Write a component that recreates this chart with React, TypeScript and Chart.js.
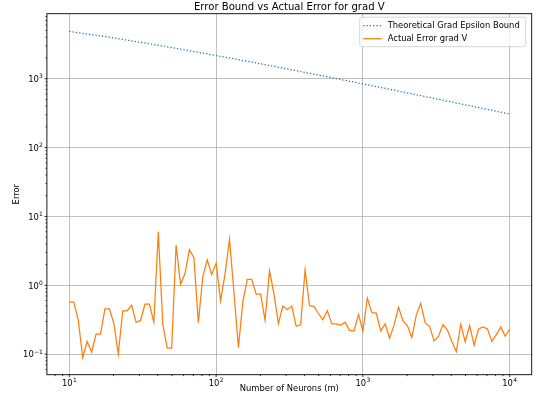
import React, { useEffect, useRef } from 'react';
import { Chart, registerables } from 'chart.js';

Chart.register(...registerables);

// Number of neurons m (100 log-spaced samples)
const neurons = [
  10, 10.72, 11.5, 12.33, 13.22, 14.18, 15.2, 16.3, 17.48, 18.74, 20.09, 21.54, 23.1, 24.77, 26.56, 28.48, 30.54,
  32.75, 35.11, 37.65, 40.37, 43.29, 46.42, 49.77, 53.37, 57.22, 61.36, 65.79, 70.55, 75.65, 81.11, 86.98, 93.26,
  100, 107.2, 115, 123.3, 132.2, 141.8, 152, 163, 174.8, 187.4, 200.9, 215.4, 231, 247.7, 265.6, 284.8, 305.4,
  327.5, 351.1, 376.5, 403.7, 432.9, 464.2, 497.7, 533.7, 572.2, 613.6, 657.9, 705.5, 756.5, 811.1, 869.8, 932.6,
  1000, 1072, 1150, 1233, 1322, 1418, 1520, 1630, 1748, 1874, 2009, 2154, 2310, 2477, 2656, 2848, 3054,
  3275, 3511, 3765, 4037, 4329, 4642, 4977, 5337, 5722, 6136, 6579, 7055, 7565, 8111, 8698, 9326, 10000,
];

// Actual error of grad V at each m
const actualError = [
  0.571, 0.571, 0.312, 0.089, 0.153, 0.107, 0.195, 0.195, 0.456, 0.456, 0.279, 0.1, 0.427, 0.427, 0.516, 0.289, 0.309,
  0.534, 0.534, 0.292, 6.0, 0.274, 0.122, 0.122, 3.83, 1.03, 1.48, 3.3, 2.51, 0.287, 1.33, 2.34, 1.43,
  2.09, 0.597, 1.45, 4.7, 0.8, 0.125, 0.57, 1.22, 1.22, 0.745, 0.745, 0.313, 1.63, 0.75, 0.278, 0.5, 0.442,
  0.5, 0.254, 0.267, 1.67, 0.505, 0.494, 0.39, 0.315, 0.428, 0.275, 0.275, 0.262, 0.291, 0.222, 0.217, 0.378,
  0.217, 0.65, 0.4, 0.395, 0.217, 0.276, 0.171, 0.264, 0.48, 0.303, 0.261, 0.175, 0.369, 0.547, 0.284, 0.254,
  0.156, 0.182, 0.268, 0.223, 0.153, 0.109, 0.272, 0.152, 0.263, 0.135, 0.232, 0.249, 0.232, 0.153, 0.192, 0.249,
  0.182, 0.232,
];

// Theoretical bound, read at a few m values
const boundNeurons = [10, 17.78, 31.62, 56.23, 100, 177.8, 316.2, 562.3, 1000, 1778, 3162, 5623, 10000];
const boundValues = [4850, 4070, 3340, 2710, 2170, 1730, 1365, 1073, 841, 656, 511, 396, 307];

// Tick labels: base 10 with exponent
const xTickValues = [10, 100, 1000, 10000];
const xTickExponents = ['1', '2', '3', '4'];
const yTickValues = [0.1, 1, 10, 100, 1000];
const yTickExponents = ['\u22121', '0', '1', '2', '3'];
const tickBase = '10';
const minorMantissas = [2, 3, 4, 5, 6, 7, 8, 9];

const titleText = 'Error Bound vs Actual Error for grad V';
const xLabel = 'Number of Neurons (m)';
const yLabel = 'Error';
const seriesLabels = ['Theoretical Grad Epsilon Bound', 'Actual Error grad V'];

const FONT = '"DejaVu Sans", sans-serif';
const BLUE = '#1f77b4';
const ORANGE = '#ff7f0e';
const DOT = [1.3, 2.0];

const decor = {
  id: 'decor',
  afterDatasetsDraw(chart: any) {
    const { ctx, chartArea: a, scales } = chart;
    const xs = scales.x;
    const ys = scales.y;
    ctx.save();
    ctx.strokeStyle = '#000';
    ctx.lineWidth = 0.8;
    // tick marks
    const drawTicks = (scale: any, horiz: boolean) => {
      const lo = Math.floor(Math.log10(scale.min));
      const hi = Math.floor(Math.log10(scale.max));
      for (let e = lo; e <= hi; e++) {
        const base = Math.pow(10, e);
        const vals = [{ v: base, len: 2.4 }].concat(minorMantissas.map((m) => ({ v: m * base, len: 1.4 })));
        for (const t of vals) {
          if (t.v < scale.min || t.v > scale.max) continue;
          const p = scale.getPixelForValue(t.v);
          ctx.beginPath();
          if (horiz) {
            ctx.moveTo(p, a.bottom);
            ctx.lineTo(p, a.bottom + t.len);
          } else {
            ctx.moveTo(a.left, p);
            ctx.lineTo(a.left - t.len, p);
          }
          ctx.stroke();
        }
      }
    };
    drawTicks(xs, true);
    drawTicks(ys, false);

    // tick labels (10 with superscript exponent)
    const bigFont = `8.4px ${FONT}`;
    const smallFont = `6px ${FONT}`;
    ctx.fillStyle = '#000';
    ctx.textBaseline = 'alphabetic';
    ctx.textAlign = 'left';
    const measure = (exp: string) => {
      ctx.font = bigFont;
      const wb = ctx.measureText(tickBase).width;
      ctx.font = smallFont;
      const we = ctx.measureText(exp).width;
      return { wb, we };
    };
    const drawLabel = (exp: string, x0: number, baseline: number) => {
      const { wb } = measure(exp);
      ctx.font = bigFont;
      ctx.fillText(tickBase, x0, baseline);
      ctx.font = smallFont;
      ctx.fillText(exp, x0 + wb + 0.3, baseline - 3.6);
    };
    xTickValues.forEach((v, i) => {
      const p = xs.getPixelForValue(v);
      const { wb, we } = measure(xTickExponents[i]);
      drawLabel(xTickExponents[i], p - (wb + we + 0.3) / 2, a.bottom + 11);
    });
    yTickValues.forEach((v, i) => {
      const p = ys.getPixelForValue(v);
      const { wb, we } = measure(yTickExponents[i]);
      drawLabel(yTickExponents[i], a.left - 4 - (wb + we + 0.3), p + 3.2);
    });

    // spines
    ctx.strokeStyle = '#000';
    ctx.lineWidth = 0.9;
    ctx.strokeRect(a.left, a.top, a.right - a.left, a.bottom - a.top);

    // legend
    const lw = 166;
    const lh = 29.5;
    const lx = a.right - 6 - lw;
    const ly = a.top + 3.5;
    const r = 2.5;
    ctx.beginPath();
    ctx.moveTo(lx + r, ly);
    ctx.lineTo(lx + lw - r, ly);
    ctx.quadraticCurveTo(lx + lw, ly, lx + lw, ly + r);
    ctx.lineTo(lx + lw, ly + lh - r);
    ctx.quadraticCurveTo(lx + lw, ly + lh, lx + lw - r, ly + lh);
    ctx.lineTo(lx + r, ly + lh);
    ctx.quadraticCurveTo(lx, ly + lh, lx, ly + lh - r);
    ctx.lineTo(lx, ly + r);
    ctx.quadraticCurveTo(lx, ly, lx + r, ly);
    ctx.closePath();
    ctx.fillStyle = 'rgba(255,255,255,0.8)';
    ctx.fill();
    ctx.strokeStyle = '#cccccc';
    ctx.lineWidth = 0.8;
    ctx.stroke();

    const rows = [ly + 8.5, ly + 21.5];
    const colors = [BLUE, ORANGE];
    ctx.font = `8.4px ${FONT}`;
    ctx.textBaseline = 'middle';
    ctx.textAlign = 'left';
    seriesLabels.forEach((lab, i) => {
      ctx.beginPath();
      ctx.strokeStyle = colors[i];
      ctx.lineWidth = 1.26;
      ctx.setLineDash(i === 0 ? DOT : []);
      ctx.moveTo(lx + 3.5, rows[i]);
      ctx.lineTo(lx + 22, rows[i]);
      ctx.stroke();
      ctx.setLineDash([]);
      ctx.fillStyle = '#000';
      ctx.fillText(lab, lx + 28, rows[i]);
    });

    // title
    ctx.font = `10.1px ${FONT}`;
    ctx.textAlign = 'center';
    ctx.fillStyle = '#000';
    ctx.fillText(titleText, (a.left + a.right) / 2, 7.5);
    ctx.restore();
  },
};

export default function App() {
  const ref = useRef<HTMLCanvasElement | null>(null);
  useEffect(() => {
    if (!ref.current) return;
    const chart = new Chart(ref.current, {
      type: 'line',
      data: {
        datasets: [
          {
            label: seriesLabels[0],
            data: boundNeurons.map((m, i) => ({ x: m, y: boundValues[i] })),
            borderColor: BLUE,
            borderWidth: 1.26,
            borderDash: DOT,
            pointRadius: 0,
            fill: false,
            tension: 0,
          },
          {
            label: seriesLabels[1],
            data: neurons.map((m, i) => ({ x: m, y: actualError[i] })),
            borderColor: ORANGE,
            borderWidth: 1.26,
            pointRadius: 0,
            fill: false,
            tension: 0,
          },
        ],
      },
      options: {
        responsive: false,
        animation: false,
        layout: { padding: { top: 13.7, right: 5.3, left: 0, bottom: 0 } },
        plugins: {
          legend: { display: false },
          title: { display: false },
          tooltip: { enabled: false },
        },
        scales: {
          x: {
            type: 'logarithmic',
            min: Math.pow(10, 0.847),
            max: Math.pow(10, 4.15),
            afterBuildTicks: (s: any) => {
              s.ticks = xTickValues.map((v) => ({ value: v, major: true }));
            },
            afterFit: (s: any) => {
              s.height = 25.3;
            },
            ticks: { display: false, autoSkip: false },
            grid: { color: '#b0b0b0', lineWidth: 0.8, drawTicks: false },
            border: { display: false },
            title: {
              display: true,
              text: xLabel,
              color: '#000',
              font: { family: FONT, size: 8.4 },
              padding: { top: 0, bottom: 6 },
            },
          },
          y: {
            type: 'logarithmic',
            min: Math.pow(10, -1.298),
            max: Math.pow(10, 3.944),
            afterBuildTicks: (s: any) => {
              s.ticks = yTickValues.map((v) => ({ value: v, major: true }));
            },
            afterFit: (s: any) => {
              s.width = 46.9;
            },
            ticks: { display: false, autoSkip: false },
            grid: { color: '#b0b0b0', lineWidth: 0.8, drawTicks: false },
            border: { display: false },
            title: {
              display: true,
              text: yLabel,
              color: '#000',
              font: { family: FONT, size: 8.4 },
              padding: { top: 12, bottom: 0 },
            },
          },
        },
      } as any,
      plugins: [decor],
    });
    return () => chart.destroy();
  }, []);

  return (
    <div style={{ position: 'absolute', left: 0, top: 0, width: 537, height: 400, background: '#fff' }}>
      <canvas ref={ref} width={537} height={400} style={{ display: 'block', width: 537, height: 400 }} />
    </div>
  );
}
